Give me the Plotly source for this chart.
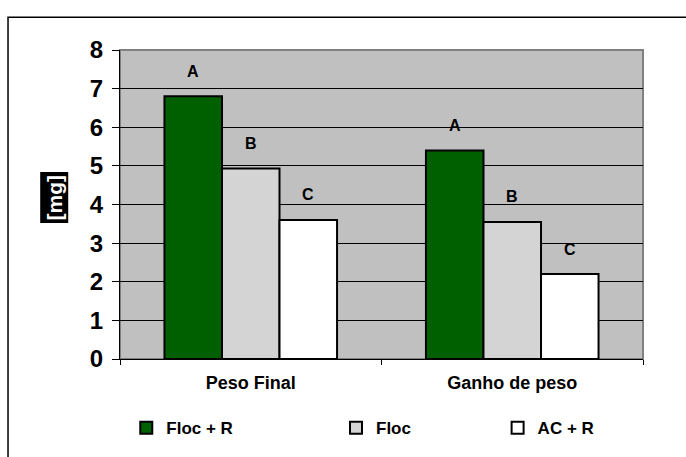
import plotly.graph_objects as go

# Data
categories = ["Peso Final", "Ganho de peso"]
series_names = ["Floc + R", "Floc", "AC + R"]
floc_r = [6.8, 5.4]
floc = [4.93, 3.55]
ac_r = [3.6, 2.2]
letters = [["A", "A"], ["B", "B"], ["C", "C"]]
y_ticks = [0, 1, 2, 3, 4, 5, 6, 7, 8]

series_values = [floc_r, floc, ac_r]
fill_colors = ["#006000", "#d4d4d4", "#ffffff"]
legend_ids = ["legend", "legend2", "legend3"]

bar_gap = 0.34
bar_w = (1 - bar_gap) / len(series_values)

fig = go.Figure()
for name, vals, color, lg in zip(series_names, series_values, fill_colors, legend_ids):
    fig.add_trace(go.Bar(
        x=categories, y=vals, name=name,
        marker=dict(color=color, line=dict(color="black", width=2)),
        legend=lg, showlegend=True,
    ))

# significance letters above each bar
annotations = []
for k, vals in enumerate(series_values):
    for i, v in enumerate(vals):
        annotations.append(dict(
            x=i + (k - 1) * bar_w, y=v, xref="x", yref="y",
            text=letters[k][i], showarrow=False, yshift=25,
            font=dict(family="Liberation Sans", size=16, color="black", weight="bold"),
        ))

# y axis title (white on black)
annotations.append(dict(
    x=-0.126, y=0.523, xref="paper", yref="paper", text="[mg]",
    xanchor="center", yanchor="middle",
    textangle=-90, showarrow=False, bgcolor="black",
    font=dict(family="Liberation Sans", size=21, color="white", weight="bold"),
    borderpad=2,
))

legend_font = dict(family="Liberation Sans", size=17, color="black", weight="bold")
legend_common = dict(orientation="h", y=-0.22, yanchor="middle", xanchor="left",
                     font=legend_font, bgcolor="rgba(0,0,0,0)", itemwidth=30)

fig.update_layout(
    width=686, height=457,
    margin=dict(l=120, r=43, t=50, b=97),
    paper_bgcolor="white",
    plot_bgcolor="#c0c0c0",
    showlegend=True,
    barmode="group",
    bargap=bar_gap,
    bargroupgap=0,
    annotations=annotations,
    legend=dict(x=0.012, **legend_common),
    legend2=dict(x=0.413, **legend_common),
    legend3=dict(x=0.722, **legend_common),
    shapes=[
        # outer frame
        dict(type="rect", xref="paper", yref="paper", x0=-0.2141, x1=1.2, y0=-0.6, y1=1.106,
             line=dict(color="black", width=1.5), layer="below"),
        # plot area border
        dict(type="rect", xref="paper", yref="paper", x0=0, x1=1, y0=0, y1=1,
             line=dict(color="#808080", width=2), layer="below"),
    ],
    xaxis=dict(
        showline=True, linecolor="black", linewidth=1,
        ticks="outside", tickson="boundaries", ticklen=5, tickcolor="black",
        showgrid=False, ticklabelstandoff=7,
        tickfont=dict(family="Liberation Sans", size=18, color="black", weight="bold"),
    ),
    yaxis=dict(
        range=[0, 8], tickvals=y_ticks,
        showline=True, linecolor="black", linewidth=1,
        ticks="outside", ticklen=7, tickcolor="black",
        showgrid=True, gridcolor="black", gridwidth=1,
        zeroline=False, ticklabelstandoff=4,
        tickfont=dict(family="Liberation Sans", size=24, color="black", weight="bold"),
    ),
)

fig.write_html("out.html")
